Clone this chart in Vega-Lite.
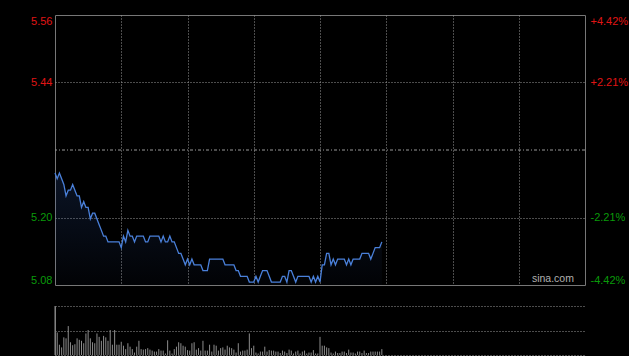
{
  "$schema": "https://vega.github.io/schema/vega-lite/v6.json",
  "background": "#000000",
  "padding": {"left": 30, "top": 14, "right": 0, "bottom": 0},
  "config": {
    "view": {"stroke": null},
    "font": "Liberation Sans",
    "axis": {"labelFont": "Liberation Sans", "labelFontSize": 11}
  },
  "datasets": {
    "d": [
      {"m":0,"p":5.28,"v":1000},{"m":1,"p":5.27,"v":460},{"m":2,"p":5.28,"v":210},{"m":3,"p":5.27,"v":155},{"m":4,"p":5.26,"v":360},
      {"m":5,"p":5.24,"v":340},{"m":6,"p":5.25,"v":590},{"m":7,"p":5.25,"v":260},{"m":8,"p":5.26,"v":200},{"m":9,"p":5.25,"v":220},
      {"m":10,"p":5.24,"v":340},{"m":11,"p":5.24,"v":310},{"m":12,"p":5.22,"v":290},{"m":13,"p":5.23,"v":240},{"m":14,"p":5.22,"v":440},
      {"m":15,"p":5.22,"v":510},{"m":16,"p":5.20,"v":340},{"m":17,"p":5.21,"v":260},{"m":18,"p":5.21,"v":240},{"m":19,"p":5.20,"v":440},
      {"m":20,"p":5.19,"v":370},{"m":21,"p":5.18,"v":290},{"m":22,"p":5.17,"v":390},{"m":23,"p":5.17,"v":360},{"m":24,"p":5.16,"v":290},
      {"m":25,"p":5.16,"v":510},{"m":26,"p":5.16,"v":210},{"m":27,"p":5.16,"v":510},{"m":28,"p":5.16,"v":210},{"m":29,"p":5.16,"v":210},
      {"m":30,"p":5.15,"v":270},{"m":31,"p":5.17,"v":190},{"m":32,"p":5.16,"v":120},{"m":33,"p":5.18,"v":240},{"m":34,"p":5.17,"v":170},
      {"m":35,"p":5.17,"v":120},{"m":36,"p":5.16,"v":50},{"m":37,"p":5.17,"v":170},{"m":38,"p":5.17,"v":290},{"m":39,"p":5.17,"v":120},
      {"m":40,"p":5.17,"v":110},{"m":41,"p":5.16,"v":120},{"m":42,"p":5.16,"v":140},{"m":43,"p":5.17,"v":110},{"m":44,"p":5.17,"v":90},
      {"m":45,"p":5.17,"v":70},{"m":46,"p":5.17,"v":70},{"m":47,"p":5.17,"v":120},{"m":48,"p":5.16,"v":90},{"m":49,"p":5.17,"v":90},
      {"m":50,"p":5.16,"v":30},{"m":51,"p":5.16,"v":300},{"m":52,"p":5.17,"v":90},{"m":53,"p":5.16,"v":30},{"m":54,"p":5.16,"v":120},
      {"m":55,"p":5.15,"v":170},{"m":56,"p":5.14,"v":260},{"m":57,"p":5.14,"v":240},{"m":58,"p":5.13,"v":190},{"m":59,"p":5.12,"v":170},
      {"m":60,"p":5.13,"v":100},{"m":61,"p":5.12,"v":90},{"m":62,"p":5.13,"v":240},{"m":63,"p":5.12,"v":260},{"m":64,"p":5.12,"v":110},
      {"m":65,"p":5.12,"v":140},{"m":66,"p":5.12,"v":90},{"m":67,"p":5.11,"v":290},{"m":68,"p":5.11,"v":90},{"m":69,"p":5.11,"v":90},
      {"m":70,"p":5.13,"v":210},{"m":71,"p":5.13,"v":70},{"m":72,"p":5.13,"v":210},{"m":73,"p":5.13,"v":190},{"m":74,"p":5.13,"v":90},
      {"m":75,"p":5.13,"v":140},{"m":76,"p":5.13,"v":155},{"m":77,"p":5.12,"v":110},{"m":78,"p":5.12,"v":190},{"m":79,"p":5.12,"v":155},
      {"m":80,"p":5.12,"v":140},{"m":81,"p":5.12,"v":110},{"m":82,"p":5.11,"v":50},{"m":83,"p":5.11,"v":240},{"m":84,"p":5.10,"v":70},
      {"m":85,"p":5.10,"v":90},{"m":86,"p":5.10,"v":90},{"m":87,"p":5.10,"v":110},{"m":88,"p":5.09,"v":440},{"m":89,"p":5.09,"v":140},
      {"m":90,"p":5.09,"v":190},{"m":91,"p":5.10,"v":50},{"m":92,"p":5.09,"v":30},{"m":93,"p":5.10,"v":70},{"m":94,"p":5.11,"v":70},
      {"m":95,"p":5.11,"v":170},{"m":96,"p":5.11,"v":70},{"m":97,"p":5.10,"v":100},{"m":98,"p":5.09,"v":90},{"m":99,"p":5.09,"v":90},
      {"m":100,"p":5.09,"v":70},{"m":101,"p":5.09,"v":70},{"m":102,"p":5.09,"v":40},{"m":103,"p":5.10,"v":90},{"m":104,"p":5.10,"v":70},
      {"m":105,"p":5.09,"v":40},{"m":106,"p":5.11,"v":110},{"m":107,"p":5.11,"v":90},{"m":108,"p":5.10,"v":30},{"m":109,"p":5.09,"v":70},
      {"m":110,"p":5.10,"v":90},{"m":111,"p":5.10,"v":30},{"m":112,"p":5.10,"v":70},{"m":113,"p":5.10,"v":90},{"m":114,"p":5.10,"v":30},
      {"m":115,"p":5.10,"v":50},{"m":116,"p":5.09,"v":50},{"m":117,"p":5.10,"v":100},{"m":118,"p":5.09,"v":30},{"m":119,"p":5.10,"v":30},
      {"m":120,"p":5.09,"v":370},{"m":121,"p":5.12,"v":190},{"m":122,"p":5.12,"v":190},{"m":123,"p":5.14,"v":155},{"m":124,"p":5.14,"v":140},
      {"m":125,"p":5.12,"v":50},{"m":126,"p":5.13,"v":30},{"m":127,"p":5.12,"v":70},{"m":128,"p":5.13,"v":40},{"m":129,"p":5.13,"v":40},
      {"m":130,"p":5.13,"v":70},{"m":131,"p":5.13,"v":70},{"m":132,"p":5.12,"v":40},{"m":133,"p":5.13,"v":110},{"m":134,"p":5.12,"v":50},
      {"m":135,"p":5.13,"v":50},{"m":136,"p":5.13,"v":30},{"m":137,"p":5.13,"v":70},{"m":138,"p":5.13,"v":70},{"m":139,"p":5.14,"v":40},
      {"m":140,"p":5.14,"v":90},{"m":141,"p":5.14,"v":40},{"m":142,"p":5.14,"v":40},{"m":143,"p":5.13,"v":70},{"m":144,"p":5.14,"v":70},
      {"m":145,"p":5.15,"v":70},{"m":146,"p":5.15,"v":70},{"m":147,"p":5.15,"v":70},{"m":148,"p":5.16,"v":120}
    ]
  },
  "spacing": 21,
  "bounds": "flush",
  "vconcat": [
    {
      "width": 530,
      "height": 270,
      "view": {"stroke": "#777777", "strokeWidth": 1},
      "layer": [
        {
          "data": {"name": "d"},
          "mark": {
            "type": "area",
            "color": {
              "gradient": "linear", "x1": 0, "y1": 0, "x2": 0, "y2": 1,
              "stops": [
                {"offset": 0, "color": "rgba(50,90,170,0.22)"},
                {"offset": 1, "color": "rgba(50,90,170,0.03)"}
              ]
            }
          },
          "encoding": {
            "x": {"field": "m", "type": "quantitative", "scale": {"domain": [0, 240]},
              "axis": {"values": [30, 60, 90, 120, 150, 180, 210], "labels": false, "ticks": false, "domain": false,
                "grid": true, "gridColor": "#999999", "gridDash": [1, 2], "title": null}},
            "y": {"field": "p", "type": "quantitative", "scale": {"domain": [5.0849, 5.5551], "nice": false, "zero": false},
              "axis": {"orient": "left", "values": [5.5551, 5.43757, 5.20243, 5.0849], "format": ".2f",
                "labelFlush": true, "ticks": false, "domain": false, "labelPadding": 3, "title": null,
                "labelColor": {"condition": {"test": "datum.value > 5.32", "value": "#e01515"}, "value": "#0a9a0a"},
                "grid": true, "gridColor": "#999999", "gridDash": [1, 2],
                "gridOpacity": {"condition": {"test": "datum.value > 5.5 || datum.value < 5.1", "value": 0}, "value": 1}}},
            "y2": {"datum": 5.0849}
          }
        },
        {
          "data": {"name": "d"},
          "mark": {"type": "line", "color": "#4a80da", "strokeWidth": 1.3},
          "encoding": {
            "x": {"field": "m", "type": "quantitative", "axis": null},
            "y": {"field": "p", "type": "quantitative", "axis": null}
          }
        },
        {
          "data": {"values": [{"c": 5.32}]},
          "mark": {"type": "rule", "color": "#999999", "strokeWidth": 1, "strokeDash": [3, 2, 1, 2]},
          "encoding": {
            "y": {"field": "c", "type": "quantitative",
              "axis": {"orient": "right", "values": [5.5551, 5.43757, 5.20243, 5.0849],
                "labelExpr": "(datum.value >= 5.32 ? '+' : '-') + format(abs(datum.value - 5.32) / 5.32 * 100, '.2f') + '%'",
                "labelFlush": true, "ticks": false, "domain": false, "grid": false, "labelPadding": 5, "title": null,
                "labelColor": {"condition": {"test": "datum.value > 5.32", "value": "#e01515"}, "value": "#0a9a0a"}}}
          }
        },
        {
          "data": {"values": [{"t": "sina.com"}]},
          "mark": {"type": "text", "align": "right", "baseline": "bottom", "color": "#b0b0b0", "fontSize": 10.5, "font": "Liberation Sans"},
          "encoding": {
            "x": {"datum": 235, "type": "quantitative", "axis": null},
            "y": {"datum": 5.0862, "type": "quantitative", "axis": null},
            "text": {"field": "t", "type": "nominal"}
          }
        }
      ],
      "resolve": {"axis": {"y": "independent", "x": "independent"}}
    },
    {
      "width": 530,
      "height": 49,
      "data": {"name": "d"},
      "mark": {"type": "rule", "color": "#8c8c8c", "strokeWidth": 1},
      "encoding": {
        "x": {"field": "m", "type": "quantitative", "scale": {"domain": [0, 240]}, "axis": null},
        "y": {"field": "v", "type": "quantitative", "scale": {"domain": [0, 1000], "nice": false},
          "axis": {"values": [0, 500, 1000], "labels": false, "ticks": false, "domain": true, "domainColor": "#777777",
            "grid": true, "gridColor": "#999999", "gridDash": [1, 2], "title": null}},
        "y2": {"datum": 0}
      }
    }
  ]
}
